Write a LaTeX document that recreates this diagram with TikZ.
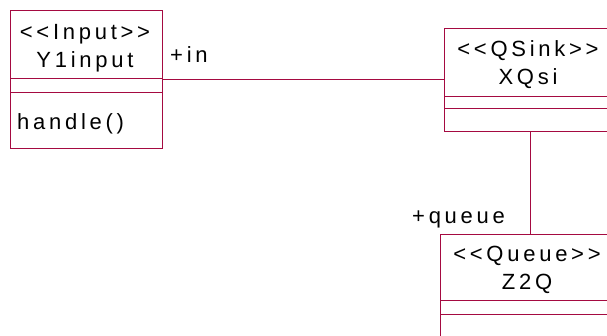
\documentclass[tikz,border=0pt]{standalone}
\usepackage{fontspec}
\setmainfont[LetterSpace=17]{Liberation Sans}
\definecolor{umlred}{RGB}{165,10,65}

\begin{document}
\begin{tikzpicture}[x=1pt,y=-1pt,classbox/.style={draw=umlred,line width=1pt,fill=white,inner sep=0pt,anchor=north west},assoc/.style={draw=umlred,line width=1pt},umltext/.style={inner sep=0pt,align=center,font=\fontsize{22}{28}\selectfont}]
\useasboundingbox (0,0) rectangle (607,335);
\node[classbox,minimum width=152pt,minimum height=138pt] (input) at (10,10) {};
\node[classbox,minimum width=172pt,minimum height=103pt] (sink) at (444,28) {};
\node[classbox,minimum width=180pt,minimum height=120pt] (queue) at (440,234) {};
\draw[assoc] (input.east) -- (input.east -| sink.west);
\draw[assoc] (sink.south) -- (sink.south |- queue.north);
\draw[assoc] (10,78) -- (162,78);
\draw[assoc] (10,92) -- (162,92);
\draw[assoc] (444,96) -- (616,96);
\draw[assoc] (444,108) -- (616,108);
\draw[assoc] (440,300) -- (620,300);
\draw[assoc] (440,314) -- (620,314);
\node[umltext] (inputname) at (85,48) {<{}<Input>{}>\\Y1input};
\node[umltext,anchor=base west] (inputop) at (17,129) {handle()};
\node[umltext] (sinkname) at (528,65) {<{}<QSink>{}>\\XQsi};
\node[umltext] (queuename) at (527,270) {<{}<Queue>{}>\\Z2Q};
\node[umltext,anchor=base west] (inrole) at (170,62) {+in};
\node[umltext,anchor=base west] (queuerole) at (412,223) {+queue};
\end{tikzpicture}
\end{document}
